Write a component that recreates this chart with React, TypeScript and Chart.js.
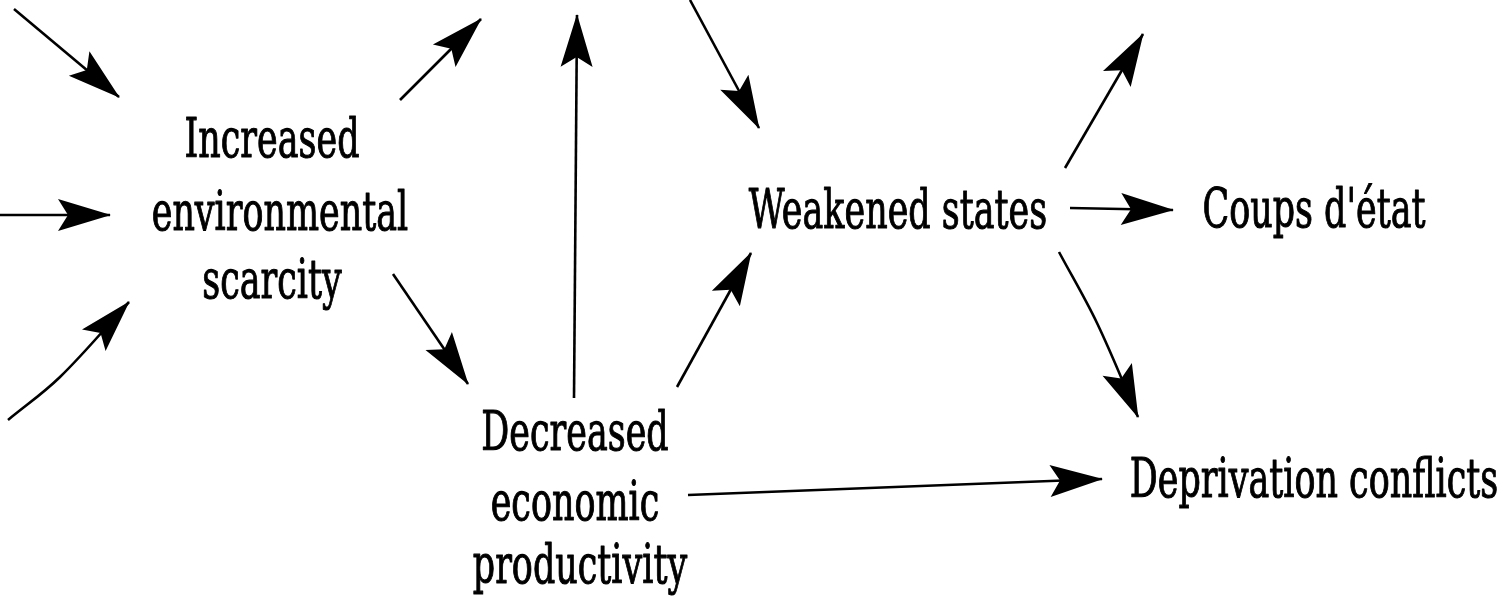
import React, { useEffect, useRef } from "react";
import { Chart, registerables } from "chart.js";

Chart.register(...registerables);

// Arrow paths in diagram coordinates (x to the right, y downward); last point is the arrow tip
const arrowNames = [
  "in-1", "in-2", "in-3", "scarcity-out-up", "scarcity-to-productivity",
  "productivity-up", "top-to-states", "productivity-to-states",
  "states-to-coups", "states-out-up", "states-to-deprivation", "productivity-to-deprivation",
];
const arrowPaths: number[][][] = [
  [[14, 9], [119, 97]],
  [[0, 215], [110, 215]],
  [[8, 420], [60, 377], [129, 302]],
  [[400, 100], [481, 19]],
  [[393, 274], [468, 384]],
  [[574, 398], [577, 15]],
  [[690, 0], [759, 128]],
  [[677, 387], [751, 253]],
  [[1070, 208], [1173, 210]],
  [[1065, 168], [1143, 34]],
  [[1059, 252], [1097, 323], [1138, 417]],
  [[688, 495], [1102, 479]],
];

// Node labels: text, centre x, baseline y
const labelTexts = [
  "Increased", "environmental", "scarcity",
  "Weakened states", "Coups d'état",
  "Decreased", "economic", "productivity",
  "Deprivation conflicts",
];
const labelX = [272, 280, 272, 898, 1314, 575, 575, 580, 1314];
const labelY = [157, 230, 298, 228, 227, 450, 520, 583, 497];

const FONT = '55px "DejaVu Serif"';
const TEXT_SCALE_X = 0.635;
const TEXT_STROKE = 1.1;
const HEAD_LEN = 52;
const HEAD_HALF = 16;
const HEAD_NOTCH = 10;

const arrowHeadPlugin = {
  id: "arrowHeads",
  afterDatasetsDraw(chart: any) {
    const { ctx, scales } = chart;
    const xs = scales.x, ys = scales.y;
    ctx.save();
    ctx.fillStyle = "#000";
    arrowPaths.forEach((p) => {
      const a = p[p.length - 2], b = p[p.length - 1];
      const ax = xs.getPixelForValue(a[0]), ay = ys.getPixelForValue(a[1]);
      const tx = xs.getPixelForValue(b[0]), ty = ys.getPixelForValue(b[1]);
      const dx = tx - ax, dy = ty - ay;
      const len = Math.hypot(dx, dy) || 1;
      const ux = dx / len, uy = dy / len;
      const nx = -uy, ny = ux;
      const bx = tx - ux * HEAD_LEN, by = ty - uy * HEAD_LEN;
      const mx = tx - ux * (HEAD_LEN - HEAD_NOTCH), my = ty - uy * (HEAD_LEN - HEAD_NOTCH);
      ctx.beginPath();
      ctx.moveTo(tx + ux * 1, ty + uy * 1);
      ctx.lineTo(bx + nx * HEAD_HALF, by + ny * HEAD_HALF);
      ctx.lineTo(mx, my);
      ctx.lineTo(bx - nx * HEAD_HALF, by - ny * HEAD_HALF);
      ctx.closePath();
      ctx.fill();
    });
    ctx.restore();
  },
};

const labelPlugin = {
  id: "nodeLabels",
  afterDraw(chart: any) {
    const { ctx, scales } = chart;
    ctx.save();
    ctx.fillStyle = "#000";
    ctx.strokeStyle = "#000";
    ctx.font = FONT;
    ctx.textAlign = "center";
    ctx.textBaseline = "alphabetic";
    ctx.lineJoin = "round";
    labelTexts.forEach((t, i) => {
      const px = scales.x.getPixelForValue(labelX[i]);
      const py = scales.y.getPixelForValue(labelY[i]);
      ctx.save();
      ctx.translate(px, py);
      ctx.scale(TEXT_SCALE_X, 1);
      ctx.lineWidth = TEXT_STROKE;
      ctx.fillText(t, 0, 0);
      ctx.strokeText(t, 0, 0);
      ctx.restore();
    });
    ctx.restore();
  },
};

const bgPlugin = {
  id: "whiteBg",
  beforeDraw(chart: any) {
    const { ctx, width, height } = chart;
    ctx.save();
    ctx.fillStyle = "#fff";
    ctx.fillRect(0, 0, width, height);
    ctx.restore();
  },
};

export default function App() {
  const ref = useRef<HTMLCanvasElement | null>(null);
  useEffect(() => {
    if (!ref.current) return;
    const chart = new Chart(ref.current, {
      type: "scatter",
      data: {
        datasets: arrowPaths.map((p, i) => ({
          label: arrowNames[i],
          data: p.map(([x, y]) => ({ x, y })),
          showLine: true,
          borderColor: "#000",
          backgroundColor: "#000",
          borderWidth: 2.6,
          pointRadius: 0,
          pointHoverRadius: 0,
          tension: p.length > 2 ? 0.35 : 0,
        })),
      },
      options: {
        responsive: false,
        animation: false,
        layout: { padding: 0 },
        plugins: { legend: { display: false }, tooltip: { enabled: false } },
        scales: {
          x: { type: "linear", min: 0, max: 1499, display: false },
          y: { type: "linear", min: 0, max: 598, reverse: true, display: false },
        },
      } as any,
      plugins: [bgPlugin, arrowHeadPlugin, labelPlugin],
    });
    return () => chart.destroy();
  }, []);
  return (
    <div style={{ position: "absolute", left: 0, top: 0, width: 1499, height: 598, background: "#fff" }}>
      <canvas ref={ref} width={1499} height={598} style={{ display: "block", width: 1499, height: 598 }} />
    </div>
  );
}
